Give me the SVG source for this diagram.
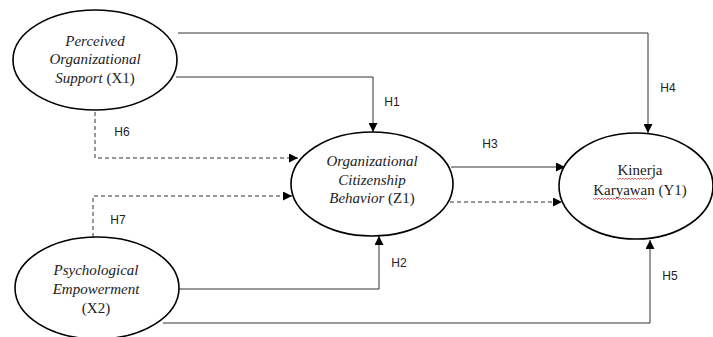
<svg xmlns="http://www.w3.org/2000/svg" width="713" height="337" viewBox="0 0 713 337">
<style>
.node{fill:#fff;stroke:#000;stroke-width:1.6}
.t{font-family:"Liberation Serif",serif;font-size:15px;fill:#222;text-anchor:middle}
.i{font-style:italic}
.lbl{font-family:"Liberation Sans","Open Sans",sans-serif;font-size:12px;fill:#222;text-anchor:middle}
.c{fill:none;stroke:#333;stroke-width:1}
.d{stroke-dasharray:4 3}
.sq{fill:none;stroke:#e03030;stroke-width:0.8}
</style>
<defs>
<marker id="ah" viewBox="0 0 10 10" refX="10" refY="5" markerWidth="9" markerHeight="9" markerUnits="userSpaceOnUse" orient="auto">
<path d="M0,0 L10,5 L0,10 z" fill="#000"/>
</marker>
</defs>
<rect width="713" height="337" fill="#fff"/>
<g id="connectors">
<path class="c" d="M178,33 H648 V133" marker-end="url(#ah)"/>
<path class="c" d="M176,77 H373 V132" marker-end="url(#ah)"/>
<path class="c d" d="M95,112 V158 H298" marker-end="url(#ah)"/>
<path class="c d" d="M93,237 V196 H292" marker-end="url(#ah)"/>
<path class="c" d="M451,167 H565" marker-end="url(#ah)"/>
<path class="c d" d="M450,202 H562" marker-end="url(#ah)"/>
<path class="c" d="M179,289 H379 V236" marker-end="url(#ah)"/>
<path class="c" d="M163,323 H650 V240" marker-end="url(#ah)"/>
</g>
<g id="labels">
<text class="lbl" x="392" y="106">H1</text>
<text class="lbl" x="399" y="267">H2</text>
<text class="lbl" x="490" y="148">H3</text>
<text class="lbl" x="668" y="92">H4</text>
<text class="lbl" x="670" y="280">H5</text>
<text class="lbl" x="122" y="136">H6</text>
<text class="lbl" x="118" y="224">H7</text>
</g>
<g id="X1">
<ellipse class="node" cx="95" cy="60" rx="82" ry="50"/>
<text class="t i" x="95" y="46">Perceived</text>
<text class="t i" x="95" y="64">Organizational</text>
<text class="t" x="95" y="83"><tspan class="i">Support</tspan> (X1)</text>
</g>
<g id="Z1">
<ellipse class="node" cx="372" cy="184" rx="81" ry="52"/>
<text class="t i" x="372" y="166">Organizational</text>
<text class="t i" x="372" y="185">Citizenship</text>
<text class="t" x="372" y="203"><tspan class="i">Behavior</tspan> (Z1)</text>
</g>
<g id="X2">
<ellipse class="node" cx="97" cy="288" rx="82" ry="51"/>
<text class="t i" x="96" y="275">Psychological</text>
<text class="t i" x="96" y="294">Empowerment</text>
<text class="t" x="96" y="313">(X2)</text>
</g>
<g id="Y1">
<ellipse class="node" cx="636" cy="186" rx="77" ry="53"/>
<text class="t" x="640" y="175">Kinerja</text>
<text class="t" x="640" y="195">Karyawan (Y1)</text>
<path class="sq" d="M617,178 l1.5,1.5 l1.5,-1.5 l1.5,1.5 l1.5,-1.5 l1.5,1.5 l1.5,-1.5 l1.5,1.5 l1.5,-1.5 l1.5,1.5 l1.5,-1.5 l1.5,1.5 l1.5,-1.5 l1.5,1.5 l1.5,-1.5 l1.5,1.5 l1.5,-1.5 l1.5,1.5 l1.5,-1.5 l1.5,1.5 l1.5,-1.5 l1.5,1.5 l1.5,-1.5 l1.5,1.5 l1.5,-1.5"/>
<path class="sq" d="M593,198 l1.5,1.5 l1.5,-1.5 l1.5,1.5 l1.5,-1.5 l1.5,1.5 l1.5,-1.5 l1.5,1.5 l1.5,-1.5 l1.5,1.5 l1.5,-1.5 l1.5,1.5 l1.5,-1.5 l1.5,1.5 l1.5,-1.5 l1.5,1.5 l1.5,-1.5 l1.5,1.5 l1.5,-1.5 l1.5,1.5 l1.5,-1.5 l1.5,1.5 l1.5,-1.5 l1.5,1.5 l1.5,-1.5 l1.5,1.5 l1.5,-1.5 l1.5,1.5 l1.5,-1.5 l1.5,1.5 l1.5,-1.5 l1.5,1.5 l1.5,-1.5 l1.5,1.5 l1.5,-1.5 l1.5,1.5 l1.5,-1.5"/>
</g>
</svg>
